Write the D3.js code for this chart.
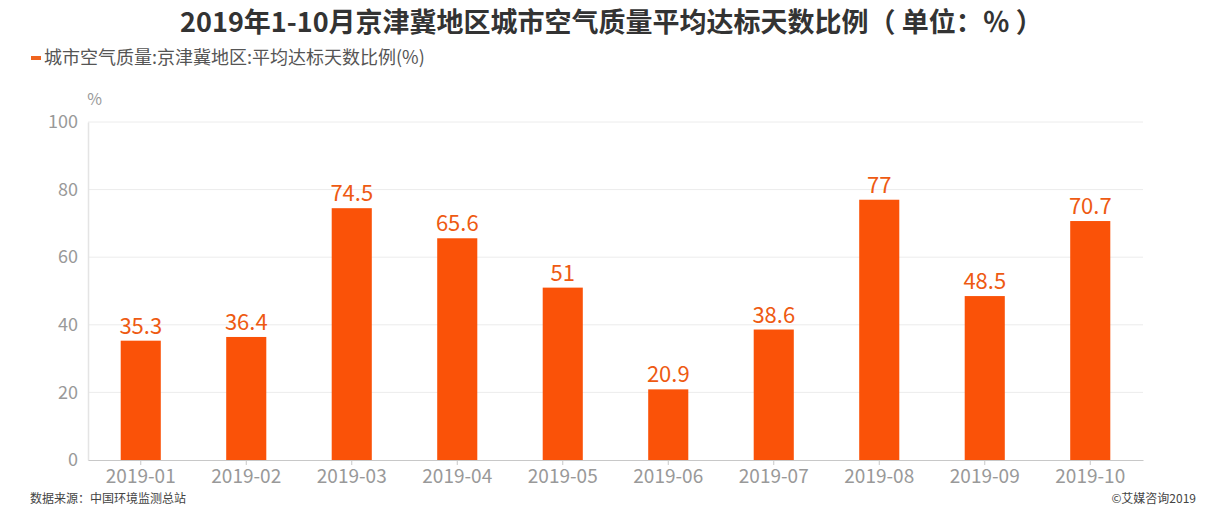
<!DOCTYPE html>
<html>
<head>
<meta charset="utf-8">
<script src="https://cdn.jsdelivr.net/npm/d3@7"></script>
<style>
  body { margin: 0; background: #fff; }
  svg { font-family: "Noto Sans CJK SC", "Noto Sans", sans-serif; }
</style>
</head>
<body>
<svg width="1227" height="520"></svg>
<script>
const months = ["2019-01", "2019-02", "2019-03", "2019-04", "2019-05",
  "2019-06", "2019-07", "2019-08", "2019-09", "2019-10"];
const rates = [35.3, 36.4, 74.5, 65.6, 51, 20.9, 38.6, 77, 48.5, 70.7];
const yTicks = [0, 20, 40, 60, 80, 100];

const svg = d3.select("svg");
const width = +svg.attr("width");
const height = +svg.attr("height");
const margin = { top: 122, right: 84, bottom: 60, left: 88 };
const innerWidth = width - margin.left - margin.right;
const innerHeight = height - margin.top - margin.bottom;
const orange = "#fa5208";

// title
svg.append("text")
  .attr("x", width / 2 - 2)
  .attr("y", 32)
  .attr("text-anchor", "middle")
  .attr("font-size", 27)
  .attr("font-weight", "bold")
  .attr("fill", "#333")
  .text("2019年1-10月京津冀地区城市空气质量平均达标天数比例（ 单位：％ ）");

// legend
svg.append("rect")
  .attr("x", 31).attr("y", 56).attr("width", 10).attr("height", 4)
  .attr("fill", "#f0641e");
svg.append("text")
  .attr("x", 44).attr("y", 64)
  .attr("font-size", 18)
  .attr("fill", "#555")
  .text("城市空气质量:京津冀地区:平均达标天数比例(%)");

const xScale = d3.scaleBand()
  .domain(months)
  .range([0, innerWidth])
  .paddingInner(0.62)
  .paddingOuter(0.31);

const yScale = d3.scaleLinear()
  .domain([0, 100])
  .range([innerHeight, 0]);

const g = svg.append("g")
  .attr("transform", `translate(${margin.left}, ${margin.top})`);

// grid
g.append("g")
  .selectAll("line")
  .data(yTicks.slice(1))
  .join("line")
  .attr("x1", 0).attr("x2", innerWidth)
  .attr("y1", d => yScale(d)).attr("y2", d => yScale(d))
  .attr("stroke", "#ececec");

// y axis
const yAxisG = g.append("g")
  .call(d3.axisLeft(yScale).tickValues(yTicks).tickSize(0).tickPadding(10))
  .attr("font-size", 18)
  .attr("font-family", null);
yAxisG.select(".domain").attr("stroke", "#e4e4e4").attr("stroke-width", 1.5);
yAxisG.selectAll("text").attr("fill", "#999");

g.append("text")
  .attr("x", 14).attr("y", -17)
  .attr("text-anchor", "end")
  .attr("font-size", 16)
  .attr("fill", "#999")
  .text("%");

// bars
g.selectAll("rect.bar")
  .data(rates)
  .join("rect")
  .attr("class", "bar")
  .attr("x", (d, i) => xScale(months[i]))
  .attr("y", d => yScale(d))
  .attr("width", xScale.bandwidth())
  .attr("height", d => innerHeight - yScale(d))
  .attr("fill", orange);

// value labels
g.selectAll("text.val")
  .data(rates)
  .join("text")
  .attr("class", "val")
  .attr("x", (d, i) => xScale(months[i]) + xScale.bandwidth() / 2)
  .attr("y", d => yScale(d) - 7)
  .attr("text-anchor", "middle")
  .attr("font-size", 22)
  .attr("fill", "#ee5a12")
  .text(d => d);

// x axis
const xAxisG = g.append("g")
  .attr("transform", `translate(0, ${innerHeight})`)
  .call(d3.axisBottom(xScale).tickSize(5).tickPadding(5).tickSizeOuter(0))
  .attr("font-size", 19)
  .attr("font-family", null);
xAxisG.select(".domain").attr("stroke", "#c8c8c8");
xAxisG.selectAll(".tick line").attr("stroke", "#c8c8c8");
xAxisG.selectAll("text").attr("fill", "#999");

// footer
svg.append("text")
  .attr("x", 30).attr("y", 503)
  .attr("font-size", 12)
  .attr("fill", "#444")
  .text("数据来源：中国环境监测总站");
svg.append("text")
  .attr("x", 1196).attr("y", 503)
  .attr("text-anchor", "end")
  .attr("font-size", 12)
  .attr("fill", "#444")
  .text("©艾媒咨询2019");
</script>
</body>
</html>
